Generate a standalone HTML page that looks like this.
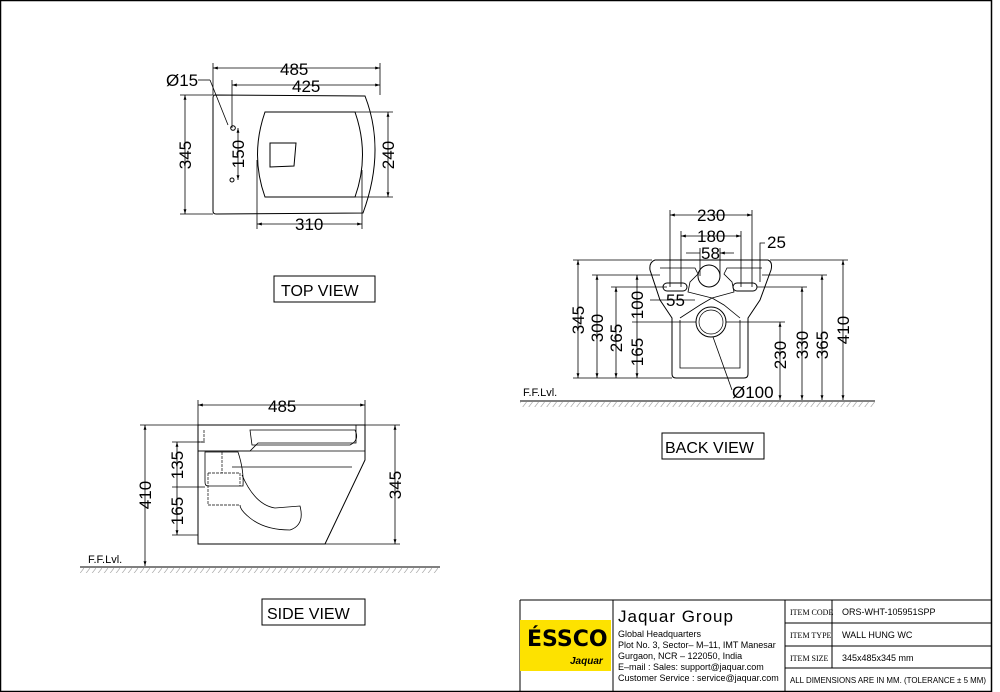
<!DOCTYPE html>
<html><head><meta charset="utf-8"><style>
body{margin:0;background:#fff}
svg{display:block}
text{font-family:"Liberation Sans",sans-serif;fill:#000}
.d{font-size:17px}
</style></head><body>
<svg width="1000" height="692" viewBox="0 0 1000 692" xmlns="http://www.w3.org/2000/svg">
<defs>
<marker id="a" viewBox="0 0 10 10" refX="10" refY="5" markerWidth="6" markerHeight="6" orient="auto-start-reverse"><path d="M0,2 L10,5 L0,8z" fill="#000"/></marker>
<pattern id="h" width="6" height="8" patternUnits="userSpaceOnUse"><path d="M0,8 L6,0" stroke="#aaa" stroke-width="0.7"/></pattern>
</defs>
<g fill="none" stroke="#000" stroke-width="1">
<rect x="0.5" y="0.5" width="991" height="691" stroke-width="1.5"/>
<path d="M215,95 L365,96 Q386,150 363,213 L216,214 Q213,214 213,211 L213,98 Q213,95 215,95Z"/>
<path d="M265,112 L355,112 Q370,155 355,197 L265,197 Q250,155 265,112Z"/>
<path d="M270,143 L296,143 L294,166 L270,167Z"/>
<circle cx="233" cy="128" r="2.3"/><circle cx="232" cy="180" r="2"/>
<path d="M210,80 L228,125" stroke-width="0.8"/><path d="M198,80 L210,80" stroke-width="0.8"/>
<g stroke-width="0.8">
<path d="M213,68 H380" marker-start="url(#a)" marker-end="url(#a)"/><path d="M213,95 V63 M380,95 V63"/>
<path d="M232,85 H380" marker-start="url(#a)" marker-end="url(#a)"/><path d="M232,128 V80"/>
<path d="M185,95 V214" marker-start="url(#a)" marker-end="url(#a)"/><path d="M180,95 H213 M180,214 H213"/>
<path d="M238,128 V180" marker-start="url(#a)" marker-end="url(#a)"/>
<path d="M388,112 V197" marker-start="url(#a)" marker-end="url(#a)"/><path d="M355,112 H393 M355,197 H393"/>
<path d="M257,224 H362" marker-start="url(#a)" marker-end="url(#a)"/><path d="M257,160 V229 M362,170 V229"/>
</g>
<rect x="274" y="276" width="101" height="26"/>
<path d="M655,260 L768,260 Q773,262 771,270 L760,300 L748,318 L748,374 Q748,378 744,378 L676,378 Q672,378 672,374 L672,318 L660,300 L650,270 Q649,262 655,260Z"/>
<path d="M660,268 L695,268 L698,274 L690,282 L688,292 L712,298 L700,305 L680,318" stroke-width="0.8"/>
<path d="M762,268 L727,268 L724,274 L732,282 L734,292 L712,298 L724,305 L740,318" stroke-width="0.8"/>
<path d="M680,320 L680,368 L740,368 L740,320" stroke-width="0.8"/>
<circle cx="709" cy="276" r="11"/>
<circle cx="711" cy="322" r="15"/><circle cx="711" cy="322" r="12" stroke-width="0.7"/>
<path d="M667,283 h16 a4,4 0 0 1 0,8 h-16 a4,4 0 0 1 0,-8z"/>
<path d="M737,283 h16 a4,4 0 0 1 0,8 h-16 a4,4 0 0 1 0,-8z"/>
<g stroke-width="0.8">
<path d="M670,215 H752" marker-start="url(#a)" marker-end="url(#a)"/><path d="M670,210 V287 M752,210 V287"/>
<path d="M681,236 H741" marker-start="url(#a)" marker-end="url(#a)"/><path d="M681,231 V287 M741,231 V287"/>
<path d="M686,253 H700 M734,253 H720" marker-end="url(#a)"/><path d="M700,248 V276 M720,248 V276"/>
<path d="M765,243 H760 V282"/>
<path d="M578,260 V378" marker-start="url(#a)" marker-end="url(#a)"/><path d="M573,260 H652 M573,378 H672"/>
<path d="M597,275 V378" marker-start="url(#a)" marker-end="url(#a)"/><path d="M592,275 H660"/>
<path d="M616,287 V378" marker-start="url(#a)" marker-end="url(#a)"/><path d="M611,287 H667"/>
<path d="M637,275 V322 M637,322 V378" marker-start="url(#a)" marker-end="url(#a)"/><path d="M632,322 H696"/>
<path d="M650,300 H695"/>
<path d="M780,322 V400" marker-start="url(#a)" marker-end="url(#a)"/><path d="M726,322 H785"/>
<path d="M802,287 V400" marker-start="url(#a)" marker-end="url(#a)"/><path d="M757,287 H807"/>
<path d="M822,275 V400" marker-start="url(#a)" marker-end="url(#a)"/><path d="M762,275 H827"/>
<path d="M843,260 V400" marker-start="url(#a)" marker-end="url(#a)"/><path d="M770,260 H848"/>
<path d="M713,337 L732,390"/>
</g>
<path d="M520,401 H875"/><rect x="520" y="402" width="355" height="5" fill="url(#h)" stroke="none"/>
<rect x="662" y="433" width="102" height="26"/>
<path d="M198,425 L365,425 L365,460 L325,544 L198,544Z"/>
<path d="M198,451 L250,451 L258,443 L356,443 L356,425" stroke-width="0.8"/>
<path d="M198,451 L365,451 M232,467 L352,467" stroke-width="0.8"/>
<path d="M250,430 L355,430 Q360,440 350,445 L252,445Z" stroke-width="0.8"/>
<path d="M205,452 L238,452 Q244,470 243,486 L208,486 Q205,486 205,482Z" stroke-width="0.8"/>
<path d="M222,452 V473 M208,473 L240,473 L240,486 M208,473 V505 L240,505" stroke-width="0.7" stroke-dasharray="3,1"/>
<path d="M242,475 Q255,505 275,508 L300,506 Q305,525 290,530 Q265,530 250,518 Q240,510 240,505" stroke-width="0.8"/>
<path d="M204,430 L204,442 L198,442" stroke-width="0.7" stroke-dasharray="3,1"/>
<g stroke-width="0.8">
<path d="M198,405 H365" marker-start="url(#a)" marker-end="url(#a)"/><path d="M198,400 V425 M365,400 V425"/>
<path d="M145,425 V566" marker-start="url(#a)" marker-end="url(#a)"/><path d="M140,425 H198"/>
<path d="M395,425 V544" marker-start="url(#a)" marker-end="url(#a)"/><path d="M365,425 H400 M325,544 H400"/>
<path d="M177,442 V487 M177,487 V535" marker-start="url(#a)" marker-end="url(#a)"/><path d="M172,442 H205 M172,487 H205 M172,535 H198"/>
</g>
<path d="M80,567 H440"/><rect x="80" y="568" width="360" height="5" fill="url(#h)" stroke="none"/>
<rect x="262" y="599" width="103" height="26"/>
<path d="M520,600 H991 M520,600 V691 M613,600 V691 M785,600 V691 M832,600 V668 M785,623 H991 M785,646 H991 M785,668 H991"/>
</g>
<rect x="520" y="620" width="91" height="51" fill="#fde200"/>
<text x="527" y="646" style="font-size:22px;font-weight:bold;font-family:'DejaVu Sans',sans-serif" fill="#222">ÉSSCO</text>
<text x="570" y="664" style="font-size:10px;font-style:italic;font-weight:bold">Jaquar</text>
<g class="d">
<text x="166" y="86">Ø15</text>
<text x="280" y="75">485</text><text x="292" y="92">425</text>
<text x="295" y="230">310</text>
<text transform="translate(191,155) rotate(-90)" text-anchor="middle">345</text>
<text transform="translate(244,154) rotate(-90)" text-anchor="middle">150</text>
<text transform="translate(394,155) rotate(-90)" text-anchor="middle">240</text>
<text x="281" y="296" style="font-size:16px">TOP VIEW</text>
<text x="697" y="221">230</text><text x="697" y="242">180</text><text x="701" y="259">58</text>
<text x="767" y="248">25</text><text x="666" y="306">55</text>
<text x="732" y="398">Ø100</text>
<text transform="translate(584,320) rotate(-90)" text-anchor="middle">345</text>
<text transform="translate(603,328) rotate(-90)" text-anchor="middle">300</text>
<text transform="translate(622,338) rotate(-90)" text-anchor="middle">265</text>
<text transform="translate(643,305) rotate(-90)" text-anchor="middle">100</text>
<text transform="translate(643,352) rotate(-90)" text-anchor="middle">165</text>
<text transform="translate(786,355) rotate(-90)" text-anchor="middle">230</text>
<text transform="translate(808,345) rotate(-90)" text-anchor="middle">330</text>
<text transform="translate(828,345) rotate(-90)" text-anchor="middle">365</text>
<text transform="translate(849,330) rotate(-90)" text-anchor="middle">410</text>
<text x="665" y="453" style="font-size:16px">BACK VIEW</text>
<text x="268" y="412">485</text>
<text transform="translate(151,495) rotate(-90)" text-anchor="middle">410</text>
<text transform="translate(401,485) rotate(-90)" text-anchor="middle">345</text>
<text transform="translate(183,465) rotate(-90)" text-anchor="middle">135</text>
<text transform="translate(183,511) rotate(-90)" text-anchor="middle">165</text>
<text x="267" y="619" style="font-size:16px">SIDE VIEW</text>
</g>
<text x="523" y="396" style="font-size:11px">F.F.Lvl.</text>
<text x="88" y="563" style="font-size:11px">F.F.Lvl.</text>
<text x="618" y="622" style="font-size:17px;letter-spacing:1px">Jaquar Group</text>
<g style="font-size:9px">
<text x="618" y="637">Global Headquarters</text>
<text x="618" y="648">Plot No. 3, Sector– M–11, IMT Manesar</text>
<text x="618" y="659">Gurgaon, NCR – 122050, India</text>
<text x="618" y="670">E–mail :  Sales:  support@jaquar.com</text>
<text x="618" y="681">Customer Service :  service@jaquar.com</text>
<text x="790" y="615" style="font-family:'Liberation Serif',serif;font-size:8px">ITEM CODE</text>
<text x="790" y="638" style="font-family:'Liberation Serif',serif;font-size:8px">ITEM TYPE</text>
<text x="790" y="661" style="font-family:'Liberation Serif',serif;font-size:8px">ITEM SIZE</text>
<text x="842" y="615">ORS-WHT-105951SPP</text>
<text x="842" y="638">WALL HUNG WC</text>
<text x="842" y="661">345x485x345 mm</text>
<text x="790" y="683" style="font-size:8px" textLength="196" lengthAdjust="spacingAndGlyphs">ALL DIMENSIONS ARE IN MM. (TOLERANCE ± 5 MM)</text>
</g>
</svg>
</body></html>
